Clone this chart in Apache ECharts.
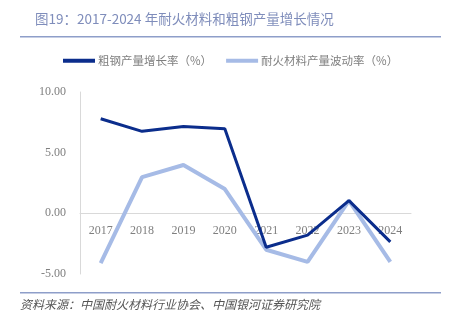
<!DOCTYPE html>
<html><head><meta charset="utf-8">
<script src="https://cdn.jsdelivr.net/npm/echarts@6/dist/echarts.min.js"></script>
<style>html,body{margin:0;padding:0;background:#fff}#c{width:449px;height:325px}</style>
</head><body><div id="c"></div>
<script>
const categories = ['2017','2018','2019','2020','2021','2022','2023','2024'];
const steelGrowth = [7.8, 6.76, 7.15, 6.98, -2.8, -1.8, 1.05, -2.35];
const refractoryChange = [-4.1, 2.99, 3.98, 2.0, -3.0, -4.0, 1.05, -4.0];
const yTicks = [-5, 0, 5, 10];
const seriesNames = ['粗钢产量增长率（%）', '耐火材料产量波动率（%）'];
const titleText = '图19：2017-2024 年耐火材料和粗钢产量增长情况';
const sourceText = '资料来源：中国耐火材料行业协会、中国银河证券研究院';

const chart = echarts.init(document.getElementById('c'));
chart.setOption({
  animation: false,
  backgroundColor: '#fff',
  title: {
    text: titleText, left: 30, top: 7,
    textStyle: {fontFamily: 'Noto Sans CJK SC', fontSize: 13.5, fontWeight: 'normal', color: '#7f8dbb'}
  },
  legend: {
    top: 50, left: 58, itemGap: 14, itemWidth: 32, itemHeight: 4,
    icon: 'rect',
    textStyle: {fontFamily: 'Noto Sans CJK SC', fontSize: 11.5, color: '#808080', padding: [0, 0, 0, -2]},
    data: seriesNames
  },
  grid: {left: 80, right: 38, top: 92, bottom: 51, containLabel: false},
  xAxis: {
    type: 'category', data: categories, boundaryGap: true, position: 'bottom', offset: -61,
    axisLine: {onZero: false, lineStyle: {color: '#d9d9d9', width: 1}},
    axisTick: {show: false},
    axisLabel: {margin: 12, fontFamily: 'Liberation Serif', fontSize: 12, color: '#7f7f7f'}
  },
  yAxis: {
    type: 'value', min: yTicks[0], max: yTicks[yTicks.length-1], interval: 5,
    axisLine: {show: true, lineStyle: {color: '#d9d9d9', width: 1}},
    axisTick: {show: false},
    splitLine: {show: false},
    axisLabel: {margin: 14, fontFamily: 'Liberation Serif', fontSize: 12, color: '#7f7f7f',
      formatter: v => v.toFixed(2)}
  },
  series: [
    {name: seriesNames[0], type: 'line', data: steelGrowth, symbol: 'none',
     lineStyle: {color: '#0b2d8c', width: 3}, itemStyle: {color: '#0b2d8c'}, z: 3},
    {name: seriesNames[1], type: 'line', data: refractoryChange, symbol: 'none',
     lineStyle: {color: '#a6bbe6', width: 4}, itemStyle: {color: '#a6bbe6'}, z: 2}
  ],
  graphic: [
    {type: 'rect', shape: {x: 20, y: 36, width: 421, height: 1.5}, style: {fill: '#8e9ec9'}},
    {type: 'rect', shape: {x: 20, y: 292, width: 421, height: 1.5}, style: {fill: '#8e9ec9'}},
    {type: 'text', left: 20, top: 298, style: {text: sourceText, fill: '#555',
      font: 'italic 12px "Noto Sans CJK SC"'}}
  ]
});
</script></body></html>
